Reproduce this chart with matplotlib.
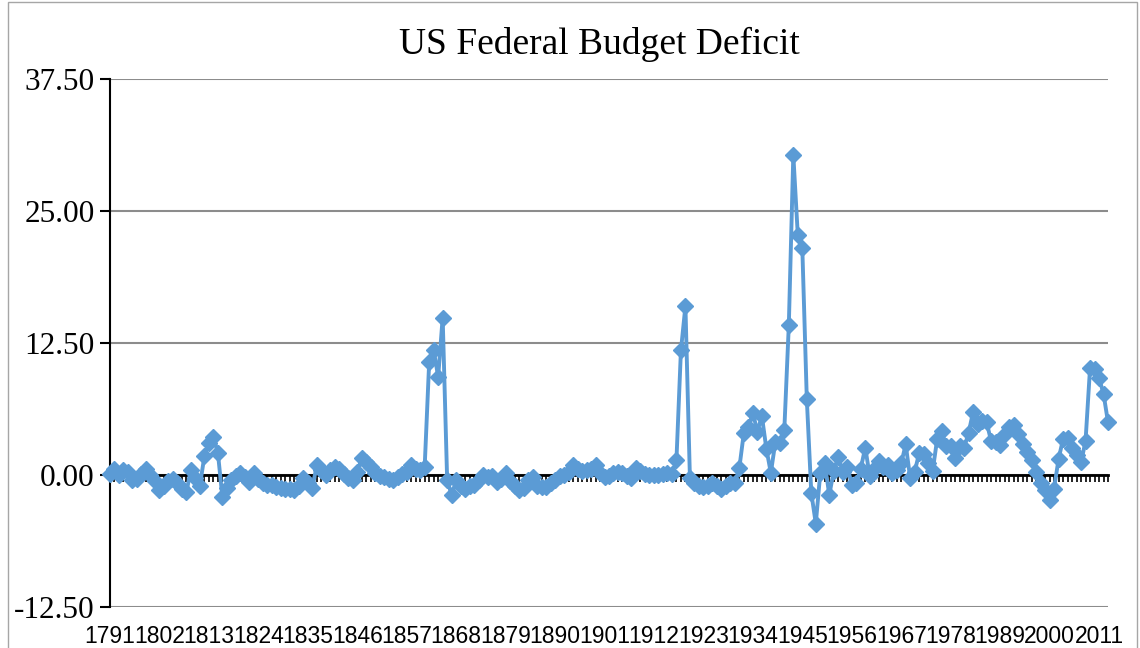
import numpy as np
import matplotlib
matplotlib.use('Agg')
import matplotlib.pyplot as plt
from matplotlib.patches import Rectangle
from matplotlib.ticker import FormatStrFormatter

## DADOS - deficit federal dos EUA (% do PIB), 1791-2013
years = list(range(1791, 2014))
deficit = [
    0.1, 0.6, 0.0, 0.5, 0.3, -0.5, -0.4, 0.1, 0.6, 0.0,        # 1791-1800
    -0.6, -1.4, -1.0, -0.6, -0.4, -0.8, -1.3, -1.6, 0.5, -0.3,  # 1801-1810
    -1.0, 1.8, 3.0, 3.6, 2.1, -2.1, -1.2, -0.5, -0.1, 0.2,      # 1811-1820
    -0.2, -0.7, 0.2, -0.4, -0.8, -0.9, -0.9, -1.1, -1.2, -1.3,  # 1821-1830
    -1.3, -1.4, -1.0, -0.3, -0.8, -1.2, 0.9, 0.5, 0.0, 0.5,     # 1831-1840
    0.8, 0.6, 0.1, -0.3, -0.5, 0.3, 1.6, 1.2, 0.8, 0.2,         # 1841-1850
    -0.1, -0.2, -0.4, -0.5, -0.2, 0.1, 0.3, 0.9, 0.6, 0.5,      # 1851-1860
    0.8, 10.7, 11.8, 9.3, 14.9, -0.5, -1.9, -0.5, -1.0, -1.3,   # 1861-1870
    -1.0, -0.9, -0.5, 0.0, -0.2, -0.1, -0.7, -0.4, 0.2, -0.6,   # 1871-1880
    -1.0, -1.4, -1.2, -0.5, -0.2, -1.0, -1.1, -1.1, -0.8, -0.5, # 1881-1890
    -0.1, 0.0, 0.3, 0.9, 0.6, 0.4, 0.5, 0.6, 0.9, 0.2,          # 1891-1900
    -0.2, -0.1, 0.2, 0.3, 0.2, -0.1, -0.3, 0.7, 0.4, 0.1,       # 1901-1910
    0.0, 0.0, 0.0, 0.1, 0.2, 0.1, 1.4, 11.8, 16.0, -0.3,        # 1911-1920
    -0.8, -1.0, -1.1, -1.0, -0.8, -1.0, -1.3, -1.0, -0.8, -0.8, # 1921-1930
    0.7, 4.0, 4.5, 5.9, 4.1, 5.6, 2.5, 0.2, 3.1, 3.0,           # 1931-1940
    4.3, 14.2, 30.3, 22.7, 21.5, 7.2, -1.7, -4.6, 0.2, 1.1,     # 1941-1950
    -1.9, 0.4, 1.7, 0.3, 0.8, -0.9, -0.8, 0.6, 2.6, -0.1,       # 1951-1960
    0.6, 1.3, 0.8, 0.9, 0.2, 0.5, 1.1, 2.9, -0.3, 0.3,          # 1961-1970
    2.1, 2.0, 1.1, 0.4, 3.4, 4.2, 2.7, 2.7, 1.6, 2.7,           # 1971-1980
    2.6, 4.0, 6.0, 4.8, 5.1, 5.0, 3.2, 3.1, 2.8, 3.9,           # 1981-1990
    4.5, 4.7, 3.9, 2.9, 2.2, 1.4, 0.3, -0.8, -1.4, -2.4,        # 1991-2000
    -1.3, 1.5, 3.4, 3.5, 2.6, 1.9, 1.2, 3.2, 10.1, 10.0,        # 2001-2010
    9.2, 7.7, 5.0,                                              # 2011-2013
]
tick_years = years[::11]
y_ticks = [-12.5, 0.0, 12.5, 25.0, 37.5]

### GRAFICO
largura, altura = 1140, 648
fig = plt.figure(figsize=(largura / 100, altura / 100), dpi=100)
ax = fig.add_axes([110 / largura, 1 - 607 / altura, 998 / largura, 528 / altura])

x = np.arange(len(deficit))
ax.plot(x, deficit, color='#5B9BD5', lw=2.8, marker='D', ms=8.5,
        zorder=3, clip_on=False)

ax.set_xlim(0, len(deficit) - 1)
ax.set_ylim(y_ticks[0], y_ticks[-1])
ax.set_yticks(y_ticks)
ax.yaxis.set_major_formatter(FormatStrFormatter('%.2f'))
ax.tick_params(axis='y', direction='out', length=7, width=1.5,
               labelsize=22.5, pad=4, labelfontfamily='Liberation Serif')
ax.grid(axis='y', color='#8c8c8c', lw=1.5)
ax.set_axisbelow(True)

# eixo horizontal cruza em zero, com marca em cada categoria
for s in ['top', 'right']:
    ax.spines[s].set_visible(False)
ax.spines['left'].set_linewidth(1.5)
ax.spines['bottom'].set_position(('data', 0))
ax.spines['bottom'].set_linewidth(2)
ax.spines['bottom'].set_zorder(2.6)
ax.set_xticks(x)
ax.tick_params(axis='x', direction='out', length=5, width=1.2,
               labelbottom=False)

# rotulos das categorias embaixo da area do grafico
sec = ax.secondary_xaxis('bottom')
sec.set_xticks(x[::11], labels=[str(a) for a in tick_years])
sec.tick_params(length=0, labelsize=16.5, pad=13,
                labelfontfamily='Liberation Sans')
sec.spines['bottom'].set_visible(False)

fig.text(599 / largura, 1 - 44 / altura, 'US Federal Budget Deficit',
         ha='center', va='center', fontsize=27, family='Liberation Serif')

# borda da area do grafico
fig.add_artist(Rectangle((8 / largura, -0.05), (1137 - 8) / largura,
                         1.05 - 2 / altura, transform=fig.transFigure,
                         fill=False, ec='#a6a6a6', lw=1))

fig.savefig('out.png', dpi=100)
